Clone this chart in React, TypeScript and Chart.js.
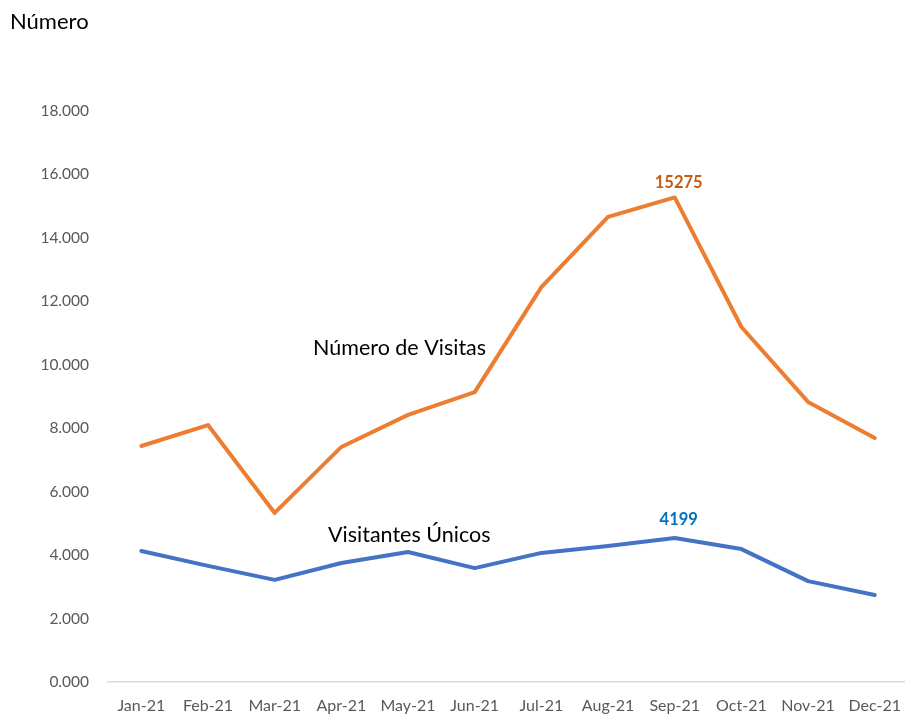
import React, { useEffect, useRef } from "react";
import { Chart, registerables } from "chart.js";

Chart.register(...registerables);

const categories = ["Jan-21", "Feb-21", "Mar-21", "Apr-21", "May-21", "Jun-21", "Jul-21", "Aug-21", "Sep-21", "Oct-21", "Nov-21", "Dec-21"];
const visitas = [7440, 8100, 5330, 7410, 8420, 9140, 12450, 14660, 15275, 11190, 8830, 7690];
const visitantes = [4130, 3660, 3220, 3750, 4100, 3590, 4070, 4290, 4540, 4190, 3180, 2740];
const visitasLabel = "15275";
const visitantesLabel = "4199";
const labelIndex = 8;
const yAxisTitle = "Número";
const visitasName = "Número de Visitas";
const visitantesName = "Visitantes Únicos";

const FONT = "Lato, 'Open Sans', sans-serif";

export default function App() {
  const ref = useRef<HTMLCanvasElement | null>(null);

  useEffect(() => {
    document.body.style.margin = "0";
    const canvas = ref.current;
    if (!canvas) return;

    const textPlugin = {
      id: "textPlugin",
      afterDraw(chart: any) {
        const ctx = chart.ctx;
        const xs = chart.scales.x;
        const ys = chart.scales.y;
        ctx.save();
        ctx.textBaseline = "middle";
        ctx.fillStyle = "#000000";
        ctx.textAlign = "left";
        ctx.font = `22px ${FONT}`;
        ctx.fillText(yAxisTitle, 10, 22);
        ctx.font = `21.5px ${FONT}`;
        ctx.fillText(visitasName, 313, 348);
        ctx.fillText(visitantesName, 328, 535);
        ctx.textAlign = "center";
        ctx.font = `bold 16.5px ${FONT}`;
        const px = xs.getPixelForValue(labelIndex) + 4;
        ctx.fillStyle = "#c55a11";
        ctx.fillText(visitasLabel, px, ys.getPixelForValue(visitas[labelIndex]) - 15);
        ctx.fillStyle = "#0070c0";
        ctx.fillText(visitantesLabel, px, ys.getPixelForValue(visitantes[labelIndex]) - 18);
        ctx.restore();
      },
    };

    const chart = new Chart(canvas, {
      type: "line",
      data: {
        labels: categories,
        datasets: [
          {
            label: visitasName,
            data: visitas,
            borderColor: "#ed7d31",
            backgroundColor: "#ed7d31",
            borderWidth: 4,
            pointRadius: 0,
            borderJoinStyle: "round",
            borderCapStyle: "round",
            tension: 0,
          },
          {
            label: visitantesName,
            data: visitantes,
            borderColor: "#4472c4",
            backgroundColor: "#4472c4",
            borderWidth: 4,
            pointRadius: 0,
            borderJoinStyle: "round",
            borderCapStyle: "round",
            tension: 0,
          },
        ],
      },
      options: {
        animation: false,
        responsive: false,
        maintainAspectRatio: false,
        layout: { padding: { top: 111, left: 0, right: 0, bottom: 0 } },
        plugins: {
          legend: { display: false },
          tooltip: { enabled: false },
        },
        scales: {
          x: {
            offset: true,
            grid: { display: false, drawTicks: false },
            border: { display: true, color: "#d9d9d9", width: 1.5 },
            ticks: {
              color: "#595959",
              font: { family: FONT, size: 16 },
              padding: 14,
              maxRotation: 0,
              autoSkip: false,
            },
            afterFit(scale: any) {
              scale.height = 33;
            },
          },
          y: {
            min: 0,
            max: 18000,
            grid: { display: false, drawTicks: false },
            border: { display: false },
            ticks: {
              stepSize: 2000,
              color: "#595959",
              font: { family: FONT, size: 15.5 },
              padding: 19,
              callback: (v: any) => (Number(v) / 1000).toFixed(3),
            },
            afterFit(scale: any) {
              scale.width = 108;
            },
          },
        },
      },
      plugins: [textPlugin],
    });

    return () => chart.destroy();
  }, []);

  return (
    <div style={{ width: 905, height: 715, position: "relative", overflow: "hidden", background: "#ffffff" }}>
      <canvas ref={ref} width={915} height={715} style={{ display: "block" }} />
    </div>
  );
}
